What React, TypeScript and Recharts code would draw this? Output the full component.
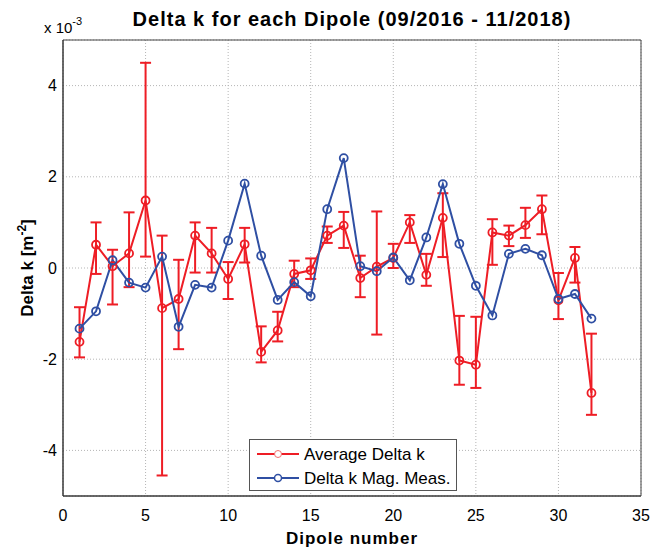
import { ComposedChart, Line, XAxis, YAxis, CartesianGrid, ErrorBar, ReferenceArea } from 'recharts'

document.body.style.margin = '0'

// dipole index
const dipoles = [1, 2, 3, 4, 5, 6, 7, 8, 9, 10, 11, 12, 13, 14, 15, 16, 17, 18, 19, 20, 21, 22, 23, 24, 25, 26, 27, 28, 29, 30, 31, 32]

// values in units of 1e-3 m^-2
const avgDeltaK = [-1.62, 0.51, 0.04, 0.32, 1.48, -0.88, -0.68, 0.71, 0.32, -0.24, 0.52, -1.84, -1.37, -0.13, -0.05, 0.71,
  0.93, -0.22, 0.03, 0.22, 1.0, -0.15, 1.1, -2.03, -2.12, 0.78, 0.71, 0.94, 1.29, -0.71, 0.22, -2.74]
const avgLow = [-1.96, -0.13, -0.8, -0.42, 0.25, -4.55, -1.78, -0.1, -0.1, -0.68, 0.12, -2.07, -1.61, -0.42, -0.24, 0.55,
  0.44, -0.64, -1.46, 0.0, 0.55, -0.39, 0.24, -2.56, -2.63, 0.07, 0.48, 0.66, 0.74, -1.12, -0.32, -3.22]
const avgHigh = [-0.86, 1.0, 0.4, 1.22, 4.5, 0.71, 0.18, 1.0, 0.88, 0.13, 0.88, -1.28, -0.96, 0.16, 0.21, 0.91,
  1.23, 0.27, 1.24, 0.53, 1.16, 0.31, 1.64, -1.05, -1.07, 1.07, 0.93, 1.32, 1.59, -0.11, 0.46, -1.44]
const magMeas = [-1.33, -0.95, 0.17, -0.32, -0.43, 0.25, -1.29, -0.37, -0.43, 0.6, 1.85, 0.27, -0.7, -0.31, -0.62, 1.29,
  2.41, 0.04, -0.07, 0.23, -0.27, 0.67, 1.84, 0.53, -0.39, -1.04, 0.31, 0.42, 0.28, -0.68, -0.57, -1.11]

const xTicks = [0, 5, 10, 15, 20, 25, 30, 35]
const yTicks = [-4, -2, 0, 2, 4]

const RED = '#ee1d25'
const BLUE = '#2f4fa3'
const FONT = '"Liberation Sans", Arial, sans-serif'

const data = dipoles.map((d, i) => ({
  dipole: d,
  avg: avgDeltaK[i],
  err: [avgDeltaK[i] - avgLow[i], avgHigh[i] - avgDeltaK[i]],
  mag: magMeas[i],
}))

export default function App() {
  const tick = { fontSize: 16, fill: '#000', fontFamily: FONT }
  return (
    <div style={{ position: 'relative', width: 651, height: 553, background: '#fff' }}>
      <ComposedChart width={651} height={553} data={data} margin={{ top: 40, right: 10, left: 0, bottom: 0 }}>
        <CartesianGrid xAxisId="b" yAxisId="l" stroke="#b5b5b5" strokeDasharray="1 2" />
        <XAxis
          xAxisId="b"
          dataKey="dipole"
          type="number"
          domain={[0, 35]}
          ticks={xTicks}
          height={57}
          tickSize={0}
          tickMargin={14}
          tick={tick}
          stroke="#333"
        />
        <YAxis
          yAxisId="l"
          type="number"
          domain={[-5, 5]}
          ticks={yTicks}
          width={63}
          tickSize={0}
          tickMargin={6}
          tick={tick}
          stroke="#333"
        />
        <ReferenceArea xAxisId="b" yAxisId="l" x1={0} x2={35} y1={-5} y2={5} fill="none" stroke="#444" strokeWidth={1} ifOverflow="visible" />
        <Line
          xAxisId="b"
          yAxisId="l"
          dataKey="avg"
          stroke={RED}
          strokeWidth={2}
          dot={{ r: 4, fill: 'none', stroke: RED, strokeWidth: 1.8 }}
          isAnimationActive={false}
        >
          <ErrorBar dataKey="err" direction="y" width={5.5} stroke={RED} strokeWidth={2} isAnimationActive={false} />
        </Line>
        <Line
          xAxisId="b"
          yAxisId="l"
          dataKey="mag"
          stroke={BLUE}
          strokeWidth={2}
          dot={{ r: 4, fill: 'none', stroke: BLUE, strokeWidth: 1.8 }}
          isAnimationActive={false}
        />
      </ComposedChart>
      <svg width={651} height={553} style={{ position: 'absolute', left: 0, top: 0, pointerEvents: 'none' }}>
        <text x={352} y={26} textAnchor="middle" fontSize={20} letterSpacing={1} fontWeight="bold" fontFamily={FONT}>
          Delta k for each Dipole (09/2016 - 11/2018)
        </text>
        <text x={44} y={33} fontSize={15} fontFamily={FONT}>
          x 10
          <tspan dy={-8} fontSize={11}>-3</tspan>
        </text>
        <text x={352} y={544} textAnchor="middle" fontSize={17} letterSpacing={1} fontWeight="bold" fontFamily={FONT}>
          Dipole number
        </text>
        <text transform="translate(33, 268) rotate(-90)" textAnchor="middle" fontSize={17} fontWeight="bold" fontFamily={FONT}>
          Delta k [m
          <tspan dy={-7} fontSize={12}>-2</tspan>
          <tspan dy={7}>]</tspan>
        </text>
        <g transform="translate(249, 439)">
          <rect x={0.5} y={0.5} width={207} height={51} fill="#fff" stroke="#555" strokeWidth={1} />
          <line x1={8} y1={15} x2={50} y2={15} stroke={RED} strokeWidth={2} />
          <circle cx={29} cy={15} r={3.5} fill="#fff" stroke="#f07070" strokeWidth={1} />
          <text x={55} y={21} fontSize={17} fontFamily={FONT} fill="#000">Average Delta k</text>
          <line x1={8} y1={39} x2={50} y2={39} stroke={BLUE} strokeWidth={2} />
          <circle cx={29} cy={39} r={3.5} fill="#fff" stroke={BLUE} strokeWidth={1.5} />
          <text x={55} y={45} fontSize={17} fontFamily={FONT} fill="#000">Delta k Mag. Meas.</text>
        </g>
      </svg>
    </div>
  )
}
